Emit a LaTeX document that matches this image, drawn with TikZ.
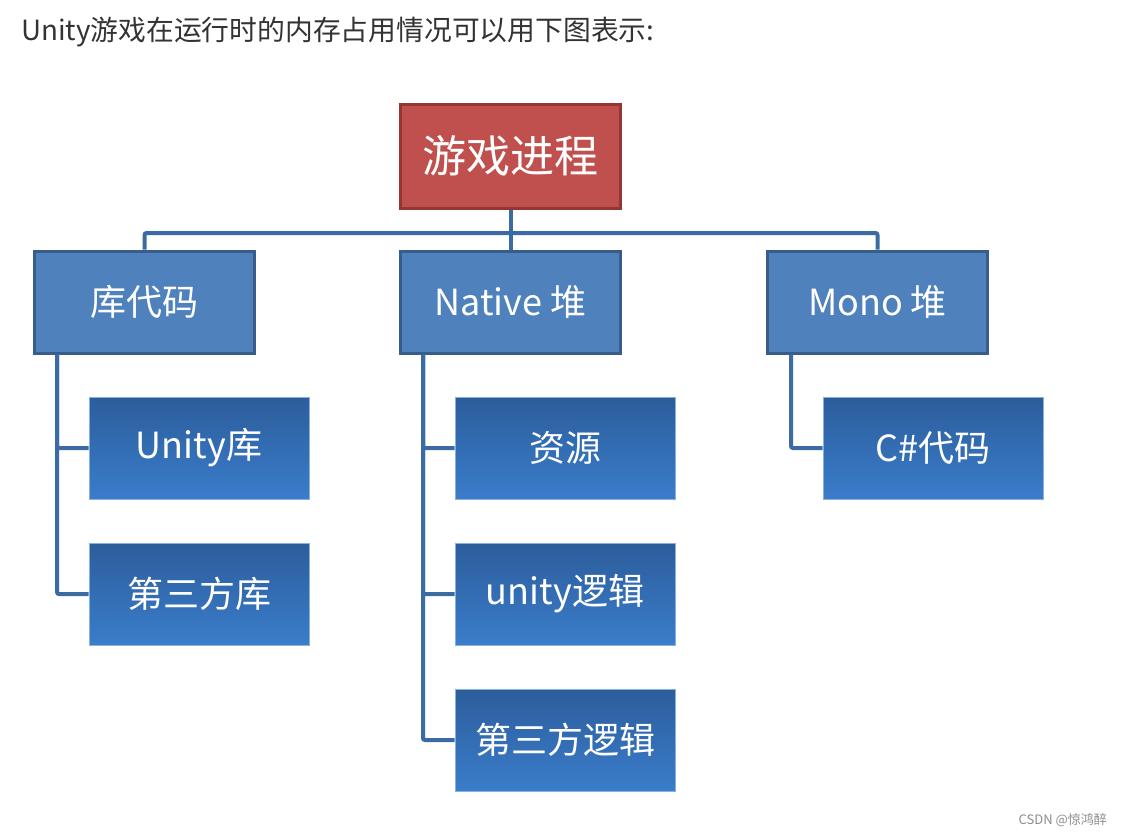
\documentclass[tikz,border=0pt]{standalone}
\usepackage{fontspec}
\setmainfont{Noto Sans CJK SC}
\usepackage{tikz}
\usetikzlibrary{positioning}
\definecolor{rootred}{HTML}{C0504D}
\definecolor{rootedge}{HTML}{943634}
\definecolor{midblue}{HTML}{4F81BD}
\definecolor{midedge}{HTML}{385D8A}
\definecolor{leaftop}{HTML}{2C5D9B}
\definecolor{leafbot}{HTML}{3A7DCB}
\definecolor{linkblue}{HTML}{3B6BA3}

\begin{document}
\begin{tikzpicture}[x=0.5pt,y=-0.5pt,
	rootbox/.style={draw=rootedge,line width=1.5pt,fill=rootred,text=white,minimum width=110pt,minimum height=52pt,font=\fontsize{22pt}{26pt}\selectfont},
	midbox/.style={draw=midedge,line width=1.5pt,fill=midblue,text=white,minimum width=110pt,minimum height=51pt,font=\fontsize{18pt}{22pt}\selectfont},
	leafbox/.style={draw=leafbot!60!white,line width=0.4pt,top color=leaftop,bottom color=leafbot,text=white,minimum width=110pt,minimum height=51pt,font=\fontsize{18pt}{22pt}\selectfont},
	conn/.style={draw=linkblue,line width=2pt,rounded corners=1pt}]
	\useasboundingbox (0,0) rectangle (1128,837);
	\node[anchor=west,text=black!80,font=\fontsize{13.9pt}{16pt}\selectfont] (head) at (14,32) {Unity游戏在运行时的内存占用情况可以用下图表示:};
	% top level
	\node[rootbox] (game) at (510.5,156) {游戏进程};
	\node[midbox] (lib) at (144.5,302) {库代码};
	\node[midbox] (native) at (510.5,302) {Native 堆};
	\node[midbox] (mono) at (877.5,302) {Mono 堆};
	% leaves
	\node[leafbox] (unitylib) at (199,448) {Unity库};
	\node[leafbox] (thirdlib) at (199,594) {第三方库};
	\node[leafbox] (asset) at (565,448) {资源};
	\node[leafbox] (unitylogic) at (565,594) {unity逻辑};
	\node[leafbox] (thirdlogic) at (565,740) {第三方逻辑};
	\node[leafbox] (cscode) at (933,448) {C\#代码};
	% connectors
	\coordinate (bus) at (510.5,233);
	\coordinate (libtrunk) at (57,354);
	\coordinate (nativetrunk) at (423,354);
	\coordinate (monotrunk) at (791,354);
	\draw[conn] (game.south) -- (native.north);
	\draw[conn] (lib.north) |- (bus) -| (mono.north);
	\draw[conn] (libtrunk) |- (unitylib.west);
	\draw[conn] (libtrunk) |- (thirdlib.west);
	\draw[conn] (nativetrunk) |- (asset.west);
	\draw[conn] (nativetrunk) |- (unitylogic.west);
	\draw[conn] (nativetrunk) |- (thirdlogic.west);
	\draw[conn] (monotrunk) |- (cscode.west);
	\node[anchor=east,text=black!45,font=\fontsize{6.5pt}{8pt}\selectfont] (mark) at (1114,820) {CSDN @惊鸿醉};
\end{tikzpicture}
\end{document}
